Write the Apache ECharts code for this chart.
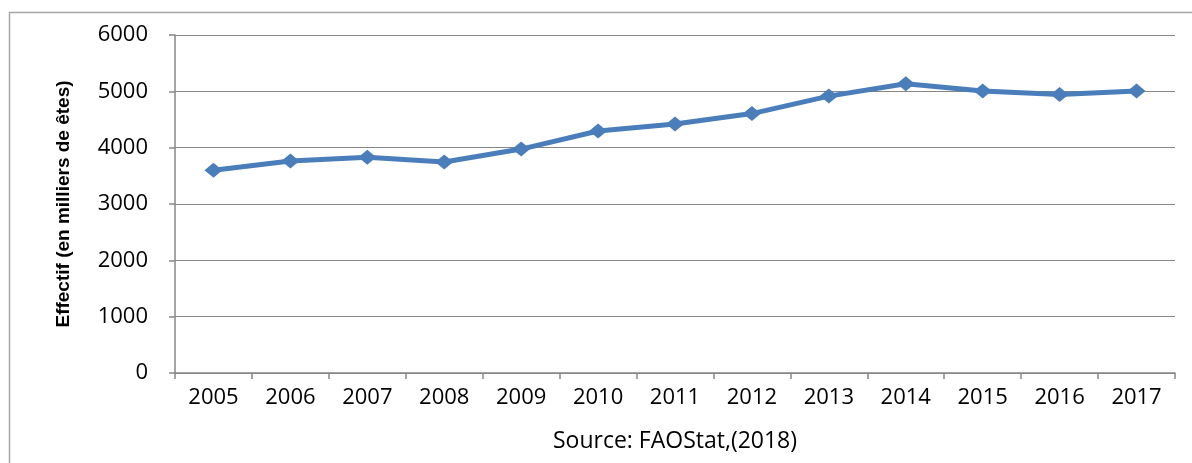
<!DOCTYPE html>
<html>
<head>
<meta charset="utf-8">
<script src="https://cdn.jsdelivr.net/npm/echarts@6/dist/echarts.min.js"></script>
<style>
html,body{margin:0;padding:0;background:#fff;}
#chart{width:1192px;height:463px;}
</style>
</head>
<body>
<div id="chart"></div>
<script>
const years = ['2005','2006','2007','2008','2009','2010','2011','2012','2013','2014','2015','2016','2017'];
const effectif = [3600, 3765, 3830, 3745, 3975, 4295, 4420, 4605, 4915, 5135, 5005, 4945, 5005];
const yTicks = [0, 1000, 2000, 3000, 4000, 5000, 6000];
const yAxisTitle = 'Effectif (en milliers de êtes)';
const sourceText = 'Source: FAOStat,(2018)';

const chart = echarts.init(document.getElementById('chart'));
chart.setOption({
  animation: false,
  backgroundColor: '#fff',
  graphic: [{
    type: 'rect',
    shape: { x: 9.5, y: 12.5, width: 1200, height: 470 },
    style: { fill: 'none', stroke: '#a6a6a6', lineWidth: 1.5 },
    z: -1
  }],
  grid: { left: 175, right: 17, top: 35, bottom: 90 },
  xAxis: {
    type: 'category',
    data: years,
    boundaryGap: true,
    axisLine: { lineStyle: { color: '#868686', width: 1.5 } },
    axisTick: { show: true, length: 6, lineStyle: { color: '#868686', width: 1.5 } },
    axisLabel: { color: '#000', fontFamily: 'Open Sans', fontSize: 22, margin: 14 },
    name: sourceText,
    nameLocation: 'middle',
    nameGap: 57,
    nameTextStyle: { color: '#000', fontFamily: 'Open Sans', fontSize: 23 }
  },
  yAxis: {
    type: 'value',
    min: yTicks[0], max: yTicks[yTicks.length - 1], interval: 1000,
    axisLine: { show: true, lineStyle: { color: '#868686', width: 1.5 } },
    axisTick: { show: true, length: 6, lineStyle: { color: '#868686', width: 1.5 } },
    splitLine: { lineStyle: { color: '#868686', width: 1.2 } },
    axisLabel: { color: '#000', fontFamily: 'Open Sans', fontSize: 22, margin: 27, formatter: v => String(v) },
    name: yAxisTitle,
    nameLocation: 'middle',
    nameGap: 102,
    nameRotate: 90,
    nameTextStyle: { color: '#000', fontFamily: 'Liberation Sans Narrow, Liberation Sans, sans-serif', fontWeight: 'bold', fontSize: 19 }
  },
  series: [{
    type: 'line',
    data: effectif,
    symbol: 'diamond',
    symbolSize: [18, 15],
    itemStyle: { color: '#4a7ebb' },
    lineStyle: { color: '#4a7ebb', width: 5 }
  }]
});
</script>
</body>
</html>
